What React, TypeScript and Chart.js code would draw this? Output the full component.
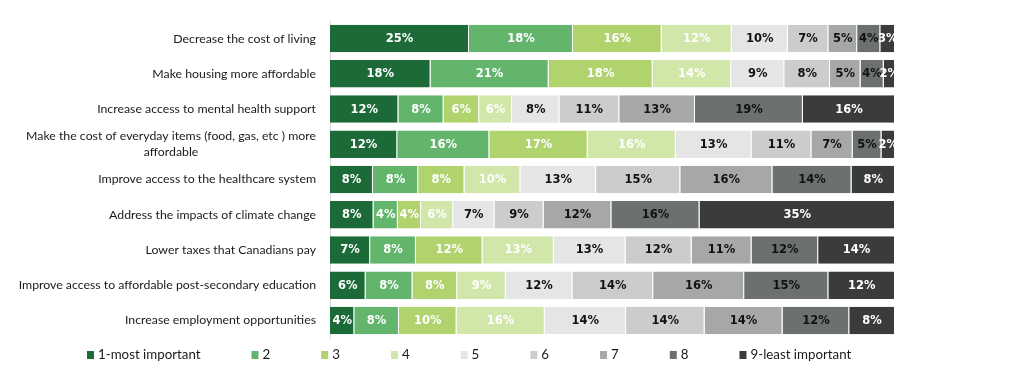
import React, { useEffect, useRef } from "react";
import { Chart, registerables } from "chart.js";

Chart.register(...registerables);

const categories: (string | string[])[] = [
  "Decrease the cost of living",
  "Make housing more affordable",
  "Increase access to mental health support",
  ["Make the cost of everyday items (food, gas, etc ) more", "affordable"],
  "Improve access to the healthcare system",
  "Address the impacts of climate change",
  "Lower taxes that Canadians pay",
  "Improve access to affordable post-secondary education",
  "Increase employment opportunities",
];

const seriesNames = [
  "1-most important",
  "2",
  "3",
  "4",
  "5",
  "6",
  "7",
  "8",
  "9-least important",
];

// Share (%) of respondents giving each rank, per category (in category order)
const rank1 = [24.6, 17.8, 12.1, 11.9, 7.6, 7.7, 7.1, 6.3, 4.3];
const rank2 = [18.4, 20.9, 8.0, 16.3, 8.0, 4.3, 8.1, 8.3, 7.9];
const rank3 = [15.7, 18.4, 6.3, 17.4, 8.2, 4.1, 11.8, 7.9, 10.2];
const rank4 = [12.4, 13.9, 5.8, 15.6, 9.9, 5.7, 12.6, 8.6, 15.6];
const rank5 = [9.9, 9.4, 8.4, 13.4, 13.4, 7.3, 12.7, 11.8, 14.4];
const rank6 = [7.2, 8.1, 10.6, 10.6, 14.9, 8.7, 11.7, 14.3, 13.9];
const rank7 = [5.1, 5.4, 13.4, 7.3, 16.3, 12.0, 10.6, 16.1, 13.8];
const rank8 = [4.1, 4.1, 19.1, 5.1, 14.0, 15.6, 11.8, 14.9, 11.8];
const rank9 = [2.6, 2.0, 16.3, 2.4, 7.7, 34.6, 13.6, 11.8, 8.1];

const ranks = [rank1, rank2, rank3, rank4, rank5, rank6, rank7, rank8, rank9];

const colors = [
  "#1b6a37",
  "#63b56b",
  "#b0d36e",
  "#d1e6a9",
  "#e4e5e4",
  "#cbcccc",
  "#a6a8a8",
  "#6d7070",
  "#3a3b3b",
];

const labelColors = [
  "#ffffff",
  "#ffffff",
  "#ffffff",
  "#ffffff",
  "#111111",
  "#111111",
  "#111111",
  "#111111",
  "#ffffff",
];

const CAT_FONT = '12.3px Lato, "Noto Sans", sans-serif';
const LEGEND_FONT = '13.3px Lato, "Noto Sans", sans-serif';
const VALUE_FONT = 'bold 11.5px "DejaVu Sans", sans-serif';

const valueLabelsPlugin = {
  id: "valueLabels",
  afterDatasetsDraw(chart: any) {
    const ctx = chart.ctx;
    ctx.save();
    ctx.font = VALUE_FONT;
    ctx.textAlign = "center";
    ctx.textBaseline = "middle";
    chart.data.datasets.forEach((ds: any, di: number) => {
      const meta = chart.getDatasetMeta(di);
      meta.data.forEach((el: any, i: number) => {
        const v = ds.data[i] as number;
        ctx.fillStyle = labelColors[di];
        ctx.fillText(Math.round(v) + "%", (el.x + el.base) / 2, el.y + 0.5);
      });
    });
    ctx.restore();
  },
};

const categoryLabelsPlugin = {
  id: "categoryLabels",
  afterDraw(chart: any) {
    const ctx = chart.ctx;
    const yScale = chart.scales.y;
    ctx.save();
    ctx.font = CAT_FONT;
    ctx.fillStyle = "#1a1a1a";
    ctx.textBaseline = "middle";
    ctx.textAlign = "center";
    const right = chart.chartArea.left - 14;
    const lineHeight = 16;
    (chart.data.labels as (string | string[])[]).forEach((c, i) => {
      const lines = Array.isArray(c) ? c : [c];
      const w = Math.max(...lines.map((l) => ctx.measureText(l).width));
      const cx = right - w / 2;
      const yc = yScale.getPixelForTick(i);
      lines.forEach((l, j) => {
        ctx.fillText(l, cx, yc + (j - (lines.length - 1) / 2) * lineHeight);
      });
    });
    ctx.restore();
  },
};

const legendPlugin = {
  id: "customLegend",
  afterDraw(chart: any) {
    const ctx = chart.ctx;
    ctx.save();
    ctx.font = LEGEND_FONT;
    ctx.textBaseline = "middle";
    ctx.textAlign = "left";
    const y = chart.chartArea.bottom + 17;
    let x = 79;
    chart.data.datasets.forEach((ds: any) => {
      ctx.fillStyle = ds.backgroundColor;
      ctx.fillRect(x, y - 4, 7, 8);
      ctx.fillStyle = "#1a1a1a";
      ctx.fillText(ds.label, x + 11, y);
      x += 11 + ctx.measureText(ds.label).width + 51;
    });
    ctx.restore();
  },
};

export default function App() {
  const ref = useRef<HTMLCanvasElement>(null);
  useEffect(() => {
    if (!ref.current) return;
    const chart = new Chart(ref.current, {
      type: "bar",
      data: {
        labels: categories as any,
        datasets: ranks.map((d, i) => ({
          label: seriesNames[i],
          data: d,
          backgroundColor: colors[i],
          borderColor: "#ffffff",
          borderWidth: { top: 0, right: 1, bottom: 0, left: 0 },
          borderSkipped: false,
          barPercentage: 0.78,
          categoryPercentage: 1,
        })),
      },
      options: {
        indexAxis: "y",
        responsive: true,
        maintainAspectRatio: false,
        animation: false,
        layout: { padding: { left: 322, right: 117, top: 13, bottom: 44 } },
        scales: {
          x: { stacked: true, min: 0, max: 100, display: false },
          y: {
            stacked: true,
            grid: { display: false, drawTicks: false },
            ticks: { display: false },
            border: { display: true, color: "#d9d9d9" },
            afterFit: (s: any) => {
              s.width = 0;
            },
          },
        },
        plugins: {
          legend: { display: false },
          tooltip: { enabled: false },
        },
      } as any,
      plugins: [valueLabelsPlugin, categoryLabelsPlugin, legendPlugin],
    });
    return () => chart.destroy();
  }, []);
  return (
    <div style={{ width: 1004, height: 374, position: "relative" }}>
      <canvas ref={ref} />
    </div>
  );
}
